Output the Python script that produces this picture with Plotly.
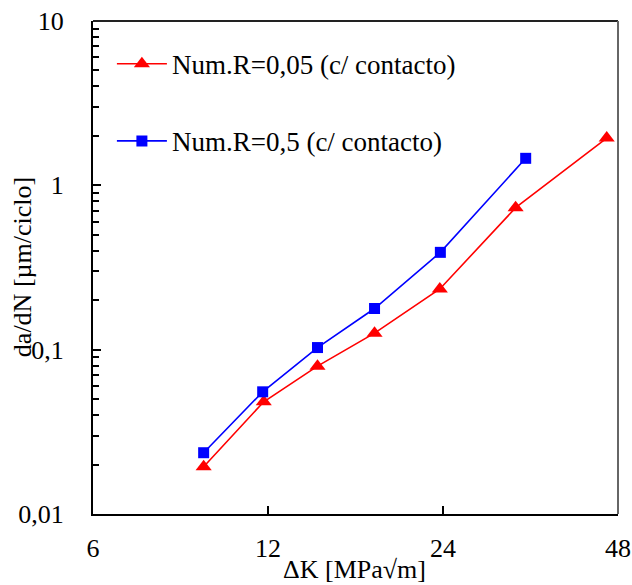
import plotly.graph_objects as go

# Data
dk_r005 = [9.3, 11.8, 14.6, 18.3, 23.7, 32.0, 45.9]
dadn_r005 = [0.0194, 0.0482, 0.0794, 0.126, 0.234, 0.731, 1.94]
dk_r05 = [9.3, 11.75, 14.6, 18.3, 23.75, 33.3]
dadn_r05 = [0.0236, 0.0554, 0.103, 0.178, 0.391, 1.46]

name_r005 = "Num.R=0,05 (c/ contacto)"
name_r05 = "Num.R=0,5 (c/ contacto)"

x_ticks = [6, 12, 24, 48]
y_ticks = [0.01, 0.1, 1, 10]
y_ticktext = ["0,01", "0,1", "1", "10"]

x_title = "ΔK [MPa√m]"
y_title = "da/dN [µm/ciclo]"

FONT = "Liberation Serif"
FS = 26

fig = go.Figure()
fig.add_trace(go.Scatter(
    x=dk_r005, y=dadn_r005, mode="lines+markers", name=name_r005,
    line=dict(color="#ff0000", width=1.6),
    marker=dict(symbol="triangle-up", size=14, color="#ff0000"),
    legendgroup="a",
))
fig.add_trace(go.Scatter(
    x=dk_r05, y=dadn_r05, mode="lines+markers", name=name_r05,
    line=dict(color="#0000ff", width=1.6),
    marker=dict(symbol="square", size=11, color="#0000ff"),
    legendgroup="b",
))

fig.update_layout(
    width=632, height=585,
    margin=dict(l=93, r=14, t=21, b=71, autoexpand=False),
    paper_bgcolor="white", plot_bgcolor="white",
    font=dict(family=FONT, size=FS, color="black"),
    showlegend=True,
    legend=dict(
        x=0.036, y=0.962, xanchor="left", yanchor="top",
        bgcolor="rgba(0,0,0,0)", borderwidth=0,
        font=dict(family=FONT, size=27, color="black"),
        tracegroupgap=39, itemwidth=50,
    ),
    xaxis=dict(
        type="log", range=[0.7781513, 1.6812412],
        tickvals=x_ticks, ticktext=[str(v) for v in x_ticks],
        ticks="inside", ticklen=8, tickwidth=1.5, tickcolor="black",
        showline=True, linecolor="black", linewidth=2, mirror=False,
        showgrid=False, zeroline=False, automargin=False,
        ticklabelstandoff=10,
        tickfont=dict(family=FONT, size=FS),
    ),
    yaxis=dict(
        type="log", range=[-2, 1],
        tickvals=y_ticks, ticktext=y_ticktext,
        ticks="inside", ticklen=8, tickwidth=1.5, tickcolor="black",
        minor=dict(ticks="inside", ticklen=6, tickwidth=1.5, tickcolor="black", dtick="D1", showgrid=False),
        showline=True, linecolor="black", linewidth=2, mirror=False,
        showgrid=False, zeroline=False, automargin=False,
        ticklabelstandoff=22,
        tickfont=dict(family=FONT, size=FS),
    ),
    shapes=[
        dict(type="line", xref="paper", yref="paper", x0=0, x1=1, y0=1, y1=1,
             line=dict(color="#222222", width=2)),
        dict(type="line", xref="paper", yref="paper", x0=1, x1=1, y0=0, y1=1,
             line=dict(color="#666666", width=2)),
    ],
    annotations=[
        dict(text=x_title, xref="paper", yref="paper", x=0.499, y=-0.113,
             xanchor="center", yanchor="middle", showarrow=False,
             font=dict(family=FONT, size=FS, color="black")),
        dict(text=y_title, xref="paper", yref="paper", x=-0.134, y=0.5,
             xanchor="center", yanchor="middle", showarrow=False, textangle=-90,
             font=dict(family=FONT, size=FS, color="black")),
    ],
)

fig.write_html("out.html")
